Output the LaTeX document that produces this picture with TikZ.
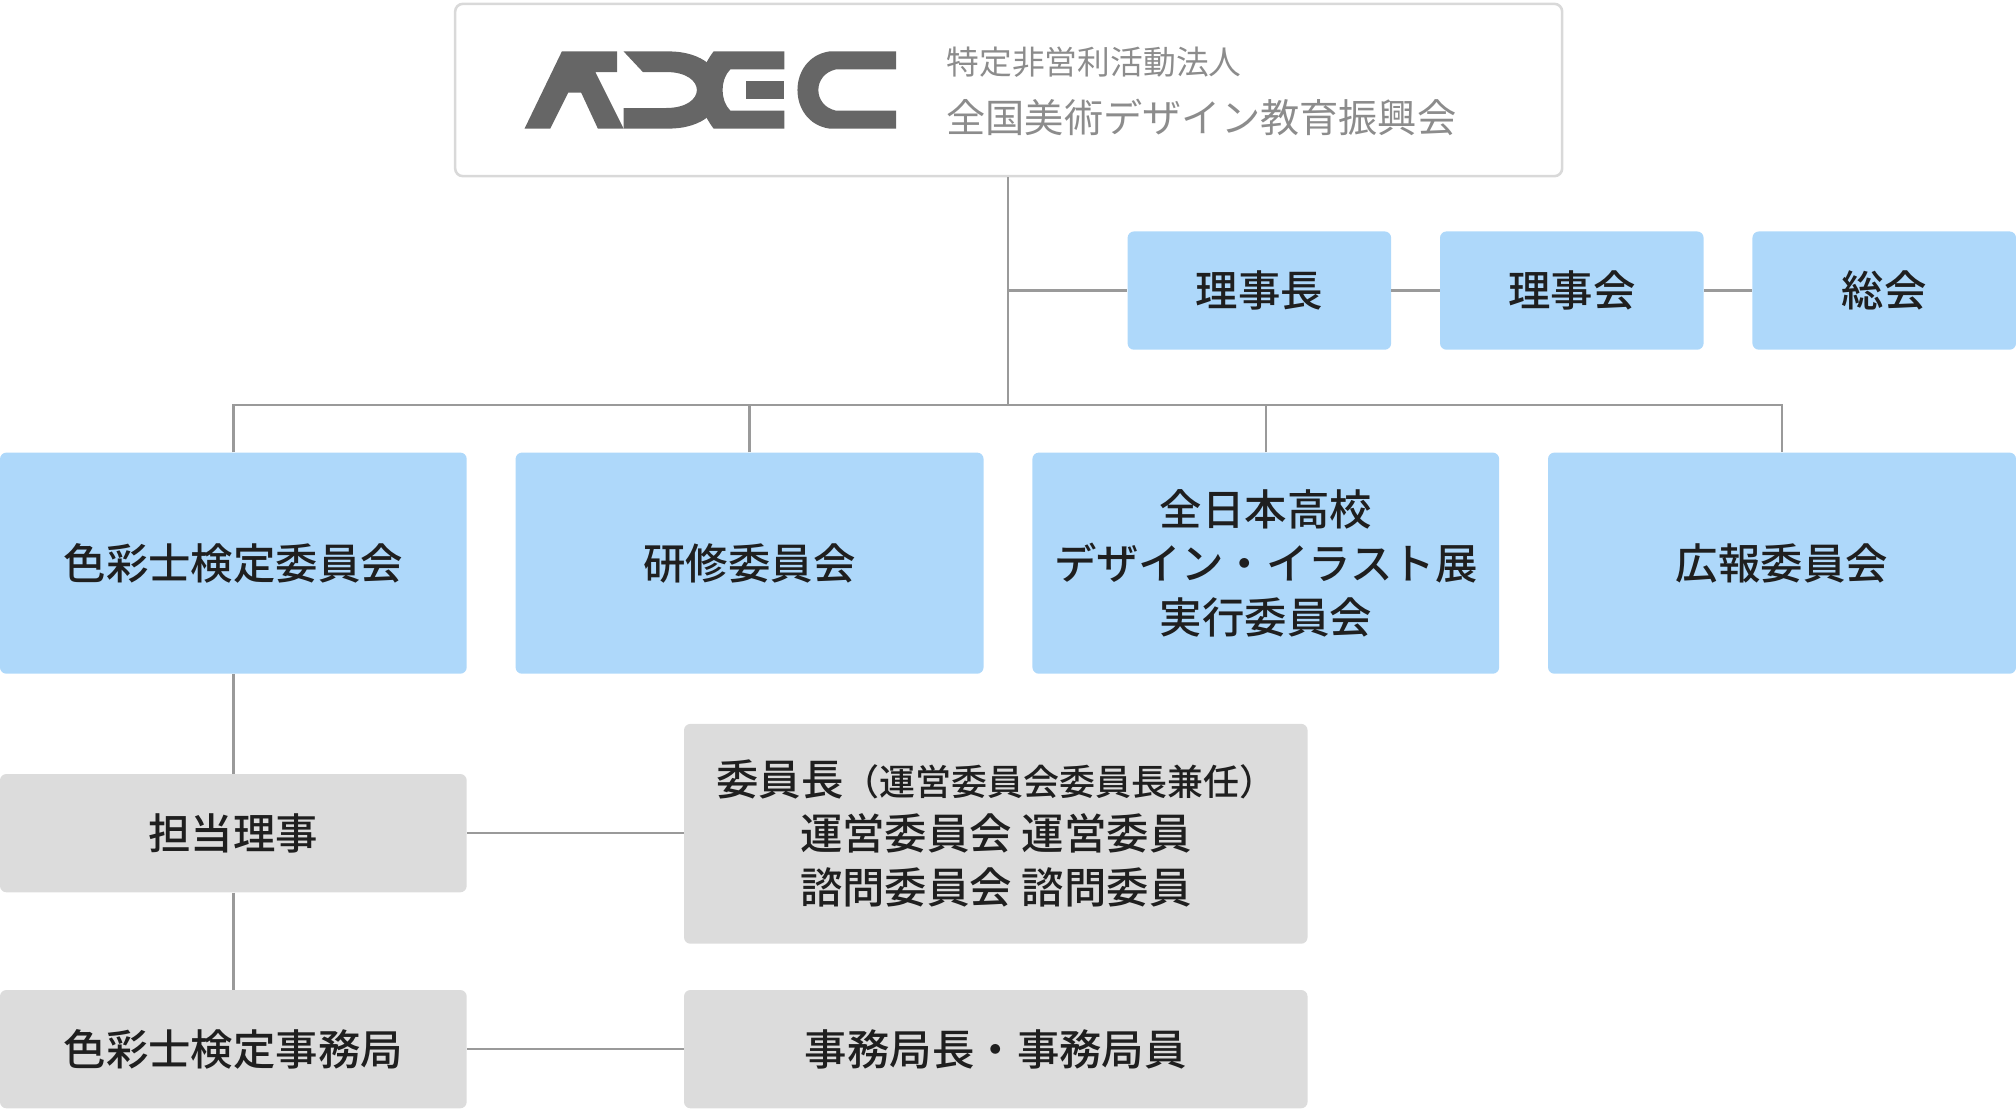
\documentclass[tikz,border=0pt]{standalone}
\usepackage{fontspec}
\newfontfamily\jp{Noto Sans CJK JP}[BoldFont={Noto Sans CJK JP Medium}]
\definecolor{bluebox}{HTML}{AED8FA}
\definecolor{greybox}{HTML}{DCDCDC}
\definecolor{lineg}{HTML}{9A9A9A}
\definecolor{logog}{HTML}{666666}
\begin{document}
\begin{tikzpicture}[x=1pt,y=-1pt,
  bx/.style={rounded corners=5pt,inner sep=0pt,align=center,font=\jp\bfseries\fontsize{33}{42}\selectfont,text=black!88},
  bl/.style={bx,fill=bluebox},
  gr/.style={bx,fill=greybox},
  ln/.style={draw=lineg,line width=2pt}]
\useasboundingbox (0,0) rectangle (1568,863);
\node[draw=black!15,line width=2pt,rounded corners=6pt,minimum width=861pt,minimum height=134pt,anchor=north west] (top) at (353,2) {};
% logo
\begin{scope}[fill=logog]
\fill (408,100) -- (437,40) -- (480,40) -- (480,56) -- (463,56) -- (485,100) -- (465,100) -- (452,72) -- (442,72) -- (428,100) -- cycle;
\fill (485,40) -- (520,40) .. controls (575,40) and (575,100) .. (520,100) -- (485,100) -- (485,84) -- (518,84) .. controls (550,84) and (550,56) .. (518,56) -- (500,56) -- cycle;
\fill (555,40) -- (610,40) -- (610,54) -- (568,54) .. controls (560,62) and (560,78) .. (568,86) -- (610,86) -- (610,100) -- (555,100) .. controls (540,80) and (540,60) .. (555,40) -- cycle;
\fill (580,63) rectangle (610,77);
\fill (697,40) -- (645,40) .. controls (612,45) and (612,95) .. (645,100) -- (697,100) -- (697,86) -- (650,86) .. controls (632,82) and (632,58) .. (650,54) -- (697,54) -- cycle;
\end{scope}
\node[anchor=west,inner sep=0pt,text=black!45,font=\jp\fontsize{25.5}{28}\selectfont] (t1) at (736,48) {特定非営利活動法人};
\node[anchor=west,inner sep=0pt,text=black!45,font=\jp\fontsize{30.5}{34}\selectfont] (t2) at (736,91) {全国美術デザイン教育振興会};
% row 1
\node[bl,minimum width=205pt,minimum height=92pt] (rj) at (979.5,226) {理事長};
\node[bl,minimum width=205pt,minimum height=92pt] (rk) at (1222.5,226) {理事会};
\node[bl,minimum width=205pt,minimum height=92pt] (sk) at (1465.5,226) {総会};
% row 2
\node[bl,minimum width=363pt,minimum height=172pt] (c1) at (181.5,438) {色彩士検定委員会};
\node[bl,minimum width=364pt,minimum height=172pt] (c2) at (583,438) {研修委員会};
\node[bl,minimum width=363pt,minimum height=172pt] (c3) at (984.5,438) {全日本高校\\デザイン・イラスト展\\実行委員会};
\node[bl,minimum width=364pt,minimum height=172pt] (c4) at (1386,438) {広報委員会};
% grey
\node[gr,minimum width=363pt,minimum height=92pt] (g1) at (181.5,648) {担当理事};
\node[gr,minimum width=363pt,minimum height=92pt] (g2) at (181.5,816) {色彩士検定事務局};
\node[gr,minimum width=485pt,minimum height=171pt] (g3) at (774.5,648.5) {委員長{\fontsize{28}{42}\selectfont（運営委員会委員長兼任）}\\運営委員会 運営委員\\諮問委員会 諮問委員};
\node[gr,minimum width=485pt,minimum height=92pt] (g4) at (774.5,816) {事務局長・事務局員};
% connectors
\coordinate (j1) at (784,226);
\coordinate (j2) at (784,315);
\draw[ln] (top.south -| j1) -- (j2);
\draw[ln] (j1) -- (rj.west);
\draw[ln] (rj) -- (rk);
\draw[ln] (rk) -- (sk);
\draw[ln] (c1.north) |- (j2) -| (c4.north);
\draw[ln] (c2.north) -- (c2.north |- j2);
\draw[ln] (c3.north) -- (c3.north |- j2);
\draw[ln] (c1) -- (g1);
\draw[ln] (g1) -- (g2);
\draw[ln] (g1.east) -- (g1.east -| g3.west);
\draw[ln] (g2) -- (g4);
\end{tikzpicture}
\end{document}
